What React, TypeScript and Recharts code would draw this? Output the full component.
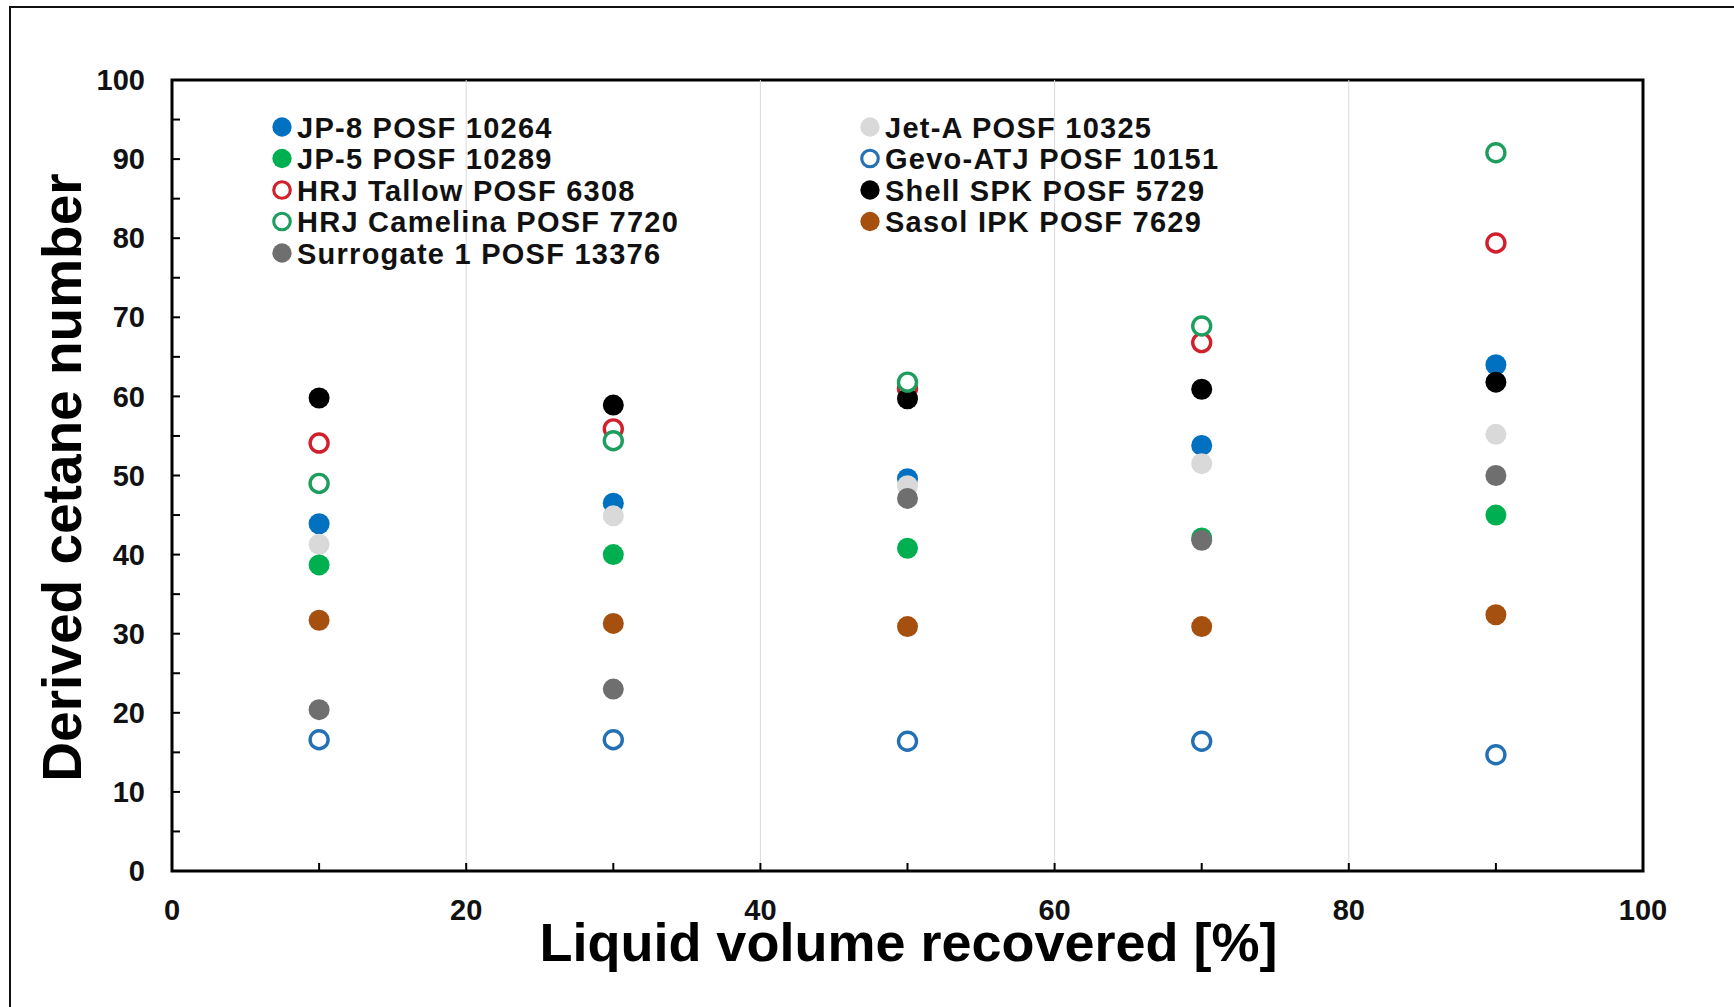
import React from 'react';
import {
  ScatterChart,
  Scatter,
  XAxis,
  YAxis,
  ReferenceLine,
  ReferenceArea,
  Label
} from 'recharts';

// liquid volume recovered [%] at which each sample was taken
const recovered = [10, 30, 50, 70, 90];

// derived cetane number per fuel, one value per recovered fraction
const jp8 = [43.9, 46.5, 49.6, 53.8, 64.0];
const jetA = [41.3, 44.9, 48.7, 51.5, 55.2];
const jp5 = [38.7, 40.0, 40.8, 42.1, 45.0];
const gevoAtj = [16.6, 16.6, 16.4, 16.4, 14.7];
const hrjTallow = [54.1, 55.9, 61.0, 66.8, 79.4];
const shellSpk = [59.8, 58.9, 59.7, 60.9, 61.8];
const hrjCamelina = [49.0, 54.4, 61.8, 68.9, 90.8];
const sasolIpk = [31.7, 31.3, 30.9, 30.9, 32.4];
const surrogate1 = [20.4, 23.0, 47.1, 41.8, 50.0];

const xTicks = [0, 10, 20, 30, 40, 50, 60, 70, 80, 90, 100];
const yTicks = [0, 5, 10, 15, 20, 25, 30, 35, 40, 45, 50, 55, 60, 65, 70, 75, 80, 85, 90, 95, 100];
const gridX = [20, 40, 60, 80];

const FONT = '"Liberation Sans", Arial, Helvetica, sans-serif';

// drawing order (later series sit on top)
const series = [
  { name: 'JP-8 POSF 10264', values: jp8, color: '#0070C0', open: false },
  { name: 'Jet-A POSF 10325', values: jetA, color: '#D9D9D9', open: false },
  { name: 'JP-5 POSF 10289', values: jp5, color: '#00B050', open: false },
  { name: 'Gevo-ATJ POSF 10151', values: gevoAtj, color: '#2370B4', open: true },
  { name: 'HRJ Tallow POSF 6308', values: hrjTallow, color: '#D0202C', open: true },
  { name: 'Shell SPK POSF 5729', values: shellSpk, color: '#000000', open: false },
  { name: 'HRJ Camelina POSF 7720', values: hrjCamelina, color: '#1E9E5E', open: true },
  { name: 'Sasol IPK POSF 7629', values: sasolIpk, color: '#A5500F', open: false },
  { name: 'Surrogate 1 POSF 13376', values: surrogate1, color: '#6F6F6F', open: false }
];

// legend columns
const legendLeft = ['JP-8 POSF 10264', 'JP-5 POSF 10289', 'HRJ Tallow POSF 6308', 'HRJ Camelina POSF 7720', 'Surrogate 1 POSF 13376'];
const legendRight = ['Jet-A POSF 10325', 'Gevo-ATJ POSF 10151', 'Shell SPK POSF 5729', 'Sasol IPK POSF 7629'];

const Marker = ({ cx, cy, color, open, scale = 1 }: any) =>
  open ? (
    <circle cx={cx} cy={cy} r={9 * scale} fill="#fff" stroke={color} strokeWidth={3.4 * scale} />
  ) : (
    <circle cx={cx} cy={cy} r={10.5 * scale} fill={color} />
  );

const XTick = ({ x, y, payload }: any) => (
  <g>
    <line x1={x} x2={x} y1={y} y2={y - 8} stroke="#000" strokeWidth={2} />
    {payload.value % 20 === 0 && (
      <text x={x} y={y + 39} dy="0.35em" textAnchor="middle" fontFamily={FONT} fontWeight="bold" fontSize={29} fill="#111">
        {payload.value}
      </text>
    )}
  </g>
);

const YTick = ({ x, y, payload }: any) => (
  <g>
    <line x1={x} x2={x + 8} y1={y} y2={y} stroke="#000" strokeWidth={2} />
    {payload.value % 10 === 0 && (
      <text x={x - 27} y={y} dy="0.35em" textAnchor="end" fontFamily={FONT} fontWeight="bold" fontSize={29} fill="#111">
        {payload.value}
      </text>
    )}
  </g>
);

const LegendOverlay = () => {
  const row = (name: string, i: number, mx: number) => {
    const s = series.find((d) => d.name === name)!;
    const cy = 127 + i * 31.5;
    return (
      <g key={name}>
        <Marker cx={mx} cy={cy} color={s.color} open={s.open} scale={0.92} />
        <text x={mx + 15} y={cy + 10.5} fontFamily={FONT} fontWeight="bold" fontSize={29} letterSpacing={1.25} fill="#111">
          {name}
        </text>
      </g>
    );
  };
  return (
    <svg width={1734} height={1007} style={{ position: 'absolute', left: 0, top: 0, pointerEvents: 'none' }}>
      {legendLeft.map((n, i) => row(n, i, 282))}
      {legendRight.map((n, i) => row(n, i, 870))}
    </svg>
  );
};

export default function App() {
  return (
    <div style={{ position: 'absolute', left: 0, top: 0, width: 1734, height: 1007, overflow: 'hidden', background: '#fff' }}>
      {/* outer frame, only top and left edges are in view */}
      <div
        style={{
          position: 'absolute',
          left: 9,
          top: 6,
          width: 1740,
          height: 1010,
          borderTop: '2px solid #111',
          borderLeft: '2px solid #111'
        }}
      />
      <div style={{ position: 'absolute', left: 0, top: 0 }}>
        <ScatterChart width={1734} height={1007} margin={{ top: 80, right: 91, bottom: 0, left: 0 }}>
          {gridX.map((g) => (
            <ReferenceLine key={g} x={g} stroke="#D9D9D9" strokeWidth={1} />
          ))}
          <XAxis
            type="number"
            dataKey="x"
            domain={[0, 100]}
            ticks={xTicks}
            interval={0}
            height={136}
            axisLine={false}
            tickLine={false}
            tickSize={0}
            tickMargin={0}
            tick={<XTick />}
          >
            <Label
              content={({ viewBox }: any) => (
                <text
                  x={viewBox.x + viewBox.width / 2 + 1}
                  y={viewBox.y + 90}
                  textAnchor="middle"
                  fontFamily={FONT}
                  fontWeight="bold"
                  fontSize={54}
                  fill="#000"
                >
                  Liquid volume recovered [%]
                </text>
              )}
            />
          </XAxis>
          <YAxis
            type="number"
            dataKey="y"
            domain={[0, 100]}
            ticks={yTicks}
            interval={0}
            width={172}
            axisLine={false}
            tickLine={false}
            tickSize={0}
            tickMargin={0}
            tick={<YTick />}
          >
            <Label
              content={({ viewBox }: any) => {
                const cx = 81;
                const cy = viewBox.y + viewBox.height / 2 + 2;
                return (
                  <text
                    x={cx}
                    y={cy}
                    transform={`rotate(-90 ${cx} ${cy})`}
                    textAnchor="middle"
                    fontFamily={FONT}
                    fontWeight="bold"
                    fontSize={55}
                    fill="#000"
                  >
                    Derived cetane number
                  </text>
                );
              }}
            />
          </YAxis>
          <ReferenceArea x1={0} x2={100} y1={0} y2={100} fill="none" stroke="#000" strokeWidth={3} />
          {series.map((s) => (
            <Scatter
              key={s.name}
              name={s.name}
              data={recovered.map((x, i) => ({ x, y: s.values[i] }))}
              isAnimationActive={false}
              shape={(p: any) => <Marker cx={p.cx} cy={p.cy} color={s.color} open={s.open} />}
            />
          ))}
        </ScatterChart>
      </div>
      <LegendOverlay />
    </div>
  );
}
